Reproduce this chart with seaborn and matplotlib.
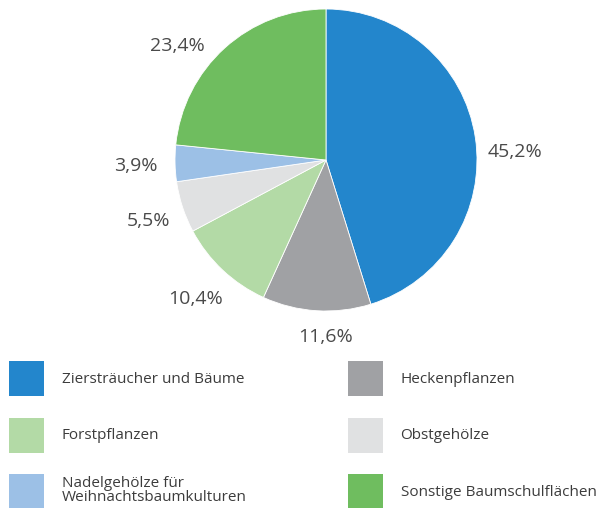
import matplotlib
matplotlib.use("Agg")
import matplotlib.pyplot as plt
import numpy as np
import seaborn as sns
from matplotlib.patches import Patch

# data, clockwise from 12 o'clock
categories = ["Ziersträucher und Bäume", "Heckenpflanzen", "Forstpflanzen",
              "Obstgehölze", "Nadelgehölze für\nWeihnachtsbaumkulturen",
              "Sonstige Baumschulflächen"]
shares = [45.2, 11.6, 10.4, 5.5, 3.9, 23.4]
colors = ["#2386cc", "#a0a1a4", "#b3daa6", "#e0e1e2", "#9cc0e6", "#6fbd5f"]

# label layout tweaks (degrees off the wedge middle, distance in radii)
label_shift = [-6.2, 3.6, 0, 0.8, 0.4, 10.5]
label_dist = [1.25, 1.17, 1.26, 1.24, 1.26, 1.24]

sns.set_theme(style="white")
plt.rcParams["font.family"] = ["Open Sans", "DejaVu Sans"]

fig = plt.figure(figsize=(6, 5.08), dpi=100)
ax = fig.add_axes([0, 0, 1, 1])

def fmt(p):
    return f"{p:.1f}%".replace(".", ",")

cx, cy, r = 326, 508 - 160, 151
wedges, _, autotexts = ax.pie(
    shares, colors=colors, startangle=90, counterclock=False,
    center=(cx, cy), radius=r, autopct=fmt, pctdistance=1.25,
    textprops=dict(color="#4a4a4a", fontsize=14),
    wedgeprops=dict(linewidth=0.6, edgecolor="white"))

for w, t, s, d in zip(wedges, autotexts, label_shift, label_dist):
    ang = np.deg2rad((w.theta1 + w.theta2) / 2 + s)
    t.set_position((cx + d * r * np.cos(ang), cy + d * r * np.sin(ang)))

ax.set_xlim(0, 600)
ax.set_ylim(0, 508)
ax.set_aspect("equal")
ax.axis("off")

handles = [Patch(facecolor=c, edgecolor="none") for c in colors]
legend_kw = dict(frameon=False, loc="upper left", fontsize=11,
                 handlelength=2.29, handleheight=3.15, handletextpad=1.15,
                 labelspacing=1.41, borderpad=0, borderaxespad=0,
                 labelcolor="#3c3c3c", bbox_transform=fig.transFigure)

left_idx = [0, 2, 4]
right_idx = [1, 3, 5]
leg1 = fig.legend([handles[i] for i in left_idx], [categories[i] for i in left_idx],
                  bbox_to_anchor=(9 / 600, 1 - 361 / 508), **legend_kw)
leg2 = fig.legend([handles[i] for i in right_idx], [categories[i] for i in right_idx],
                  bbox_to_anchor=(348 / 600, 1 - 361 / 508), **legend_kw)
for leg in (leg1, leg2):
    for t in leg.get_texts():
        t.set_linespacing(0.95)

fig.savefig("out.png", dpi=100, facecolor="white")
